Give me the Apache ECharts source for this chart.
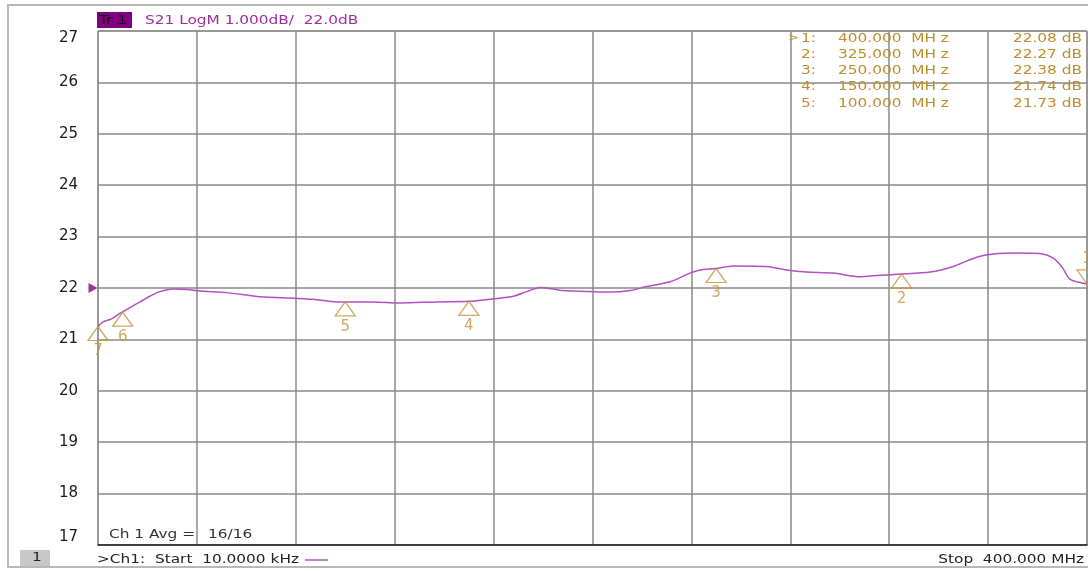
<!DOCTYPE html>
<html>
<head>
<meta charset="utf-8">
<script src="https://cdn.jsdelivr.net/npm/echarts@6/dist/echarts.min.js"></script>
<style>
html,body{margin:0;padding:0;background:#fff;}
#chart{width:1088px;height:572px;}
</style>
</head>
<body>
<div id="chart"></div>
<script>
// ---- data ----
const freqMHz = [0, 2, 5.5, 9, 13, 17, 21, 24.4, 30.5, 35.9, 41.3, 52, 65.5, 79, 87, 96.5, 111, 122, 137, 150, 160, 168, 173.4, 178.8, 184.2, 188.2, 197.6, 207, 215.2, 221.9, 231.4, 239.4, 243.5, 250, 256.9, 270.4, 278.5, 286.6, 297.4, 308.2, 316.2, 325, 336.5, 345.9, 355.4, 362.1, 371.5, 381, 386.4, 390, 393.2, 400];
const s21dB = [21.25, 21.34, 21.40, 21.51, 21.62, 21.73, 21.84, 21.92, 21.98, 21.97, 21.94, 21.91, 21.83, 21.80, 21.78, 21.73, 21.73, 21.71, 21.73, 21.74, 21.79, 21.84, 21.93, 22.01, 21.98, 21.95, 21.93, 21.92, 21.95, 22.03, 22.12, 22.29, 22.35, 22.38, 22.43, 22.42, 22.35, 22.31, 22.29, 22.22, 22.25, 22.27, 22.31, 22.42, 22.60, 22.66, 22.68, 22.67, 22.58, 22.40, 22.17, 22.08];
const markerIds = [1, 2, 3, 4, 5, 6, 7];
const markerFreqMHz = [400, 325, 250, 150, 100, 10, 0.01];
const markerValues = [22.08, 22.27, 22.38, 21.74, 21.73, 21.53, 21.25];
const tableRows = 5;
const activeMarker = 1;
const refLevel = 22.0;
const yTicks = [17, 18, 19, 20, 21, 22, 23, 24, 25, 26, 27];
const titleText = 'S21 LogM 1.000dB/  22.0dB';
const startText = '>Ch1:  Start  10.0000 kHz';
const stopText = 'Stop  400.000 MHz';

// ---- chart ----
const gold = '#c4923a';
const goldText = '#bf8d2c';
const trace = '#b052bf';
const SX = 1.18;

const chart = echarts.init(document.getElementById('chart'), null, {renderer: 'canvas'});

const markerData = markerIds.map((id, i) => {
  const item = {value: [markerFreqMHz[i], markerValues[i], id]};
  if (id === activeMarker) {
    item.symbol = 'path://M0,0 L20,0 L10,14 Z';
    item.symbolOffset = [0, -7];
    item.label = {position: 'top'};
  }
  return item;
});

function txt(x, y, text, opts) {
  return {
    type: 'text', x: x, y: y, scaleX: SX, z: 100,
    style: Object.assign({text: text, fontSize: 13, fontFamily: 'DejaVu Sans', fill: '#222', verticalAlign: 'middle', align: 'left'}, opts || {})
  };
}

const graphics = [
  {type: 'rect', shape: {x: 8, y: 5, width: 1100, height: 562}, style: {fill: 'none', stroke: '#b8b8b8', lineWidth: 2}, z: 0, silent: true},
  {type: 'rect', shape: {x: 97, y: 12, width: 35, height: 16}, style: {fill: '#800080'}, z: 99},
  txt(99, 20.5, 'Tr 1', {fill: '#140014'}),
  txt(145, 20.5, titleText, {fill: '#a02ca0'}),
  {type: 'rect', shape: {x: 20, y: 550, width: 30, height: 16}, style: {fill: '#c8c8c8'}, z: 99},
  txt(32, 558, '1', {fill: '#222'}),
  txt(97, 560, startText, {fill: '#222'}),
  {type: 'line', shape: {x1: 305, y1: 560, x2: 328, y2: 560}, style: {stroke: trace, lineWidth: 1.5}, z: 100},
  txt(1084, 560, stopText, {align: 'right'}),
  txt(109, 535, 'Ch 1 Avg =', {fill: '#333'}),
  txt(208, 535, '16/16', {fill: '#333'})
];

for (let i = 0; i < tableRows; i++) {
  const y = 38.5 + i * 16.2;
  if (markerIds[i] === activeMarker) graphics.push(txt(788, y, '>', {fill: goldText, fontSize: 11}));
  graphics.push(txt(816, y, markerIds[i] + ':', {fill: goldText, align: 'right'}));
  graphics.push(txt(838, y, markerFreqMHz[i].toFixed(3) + '  MH z', {fill: goldText}));
  graphics.push(txt(1082, y, markerValues[i].toFixed(2) + ' dB', {fill: goldText, align: 'right'}));
}

chart.setOption({
  animation: false,
  backgroundColor: '#fff',
  grid: {left: 98, right: 1, top: 31, bottom: 27, containLabel: false, show: true, borderColor: '#8a8a8a', borderWidth: 1},
  xAxis: {
    type: 'value', min: 0, max: 400, interval: 40,
    axisLabel: {show: false}, axisTick: {show: false},
    axisLine: {show: true, lineStyle: {color: '#222', width: 1.5}},
    splitLine: {show: true, lineStyle: {color: '#8a8a8a', width: 1.5}}
  },
  yAxis: {
    type: 'value', min: yTicks[0], max: yTicks[yTicks.length - 1], interval: 1,
    axisTick: {show: false}, axisLine: {show: false},
    axisLabel: {
      margin: 20, fontSize: 15, fontFamily: 'DejaVu Sans', color: '#1a1a1a',
      verticalAlignMaxLabel: 'top', verticalAlignMinLabel: 'bottom',
      formatter: v => yTicks.includes(v) ? String(v) : ''
    },
    splitLine: {show: true, lineStyle: {color: '#8a8a8a', width: 1.5}}
  },
  series: [
    {
      type: 'line', name: 'S21',
      data: freqMHz.map((f, i) => [f, s21dB[i]]),
      showSymbol: false, smooth: 0.25,
      lineStyle: {color: trace, width: 1.5}, z: 5
    },
    {
      type: 'scatter', name: 'markers', clip: false,
      data: markerData,
      symbol: 'triangle', symbolSize: [20, 14], symbolOffset: [0, 7],
      itemStyle: {color: 'rgba(255,255,255,0)', borderColor: gold, borderWidth: 1.3},
      label: {show: true, position: 'bottom', distance: 3, formatter: p => String(p.value[2]), color: gold, fontSize: 15, fontFamily: 'DejaVu Sans'},
      z: 6
    },
    {
      type: 'scatter', name: 'ref', clip: false,
      data: [[0, refLevel]],
      symbol: 'path://M0,0 L10,5 L0,10 Z', symbolSize: [9, 10], symbolOffset: [-5, 0],
      itemStyle: {color: '#800080'}, z: 7
    }
  ],
  graphic: graphics
});
</script>
</body>
</html>
